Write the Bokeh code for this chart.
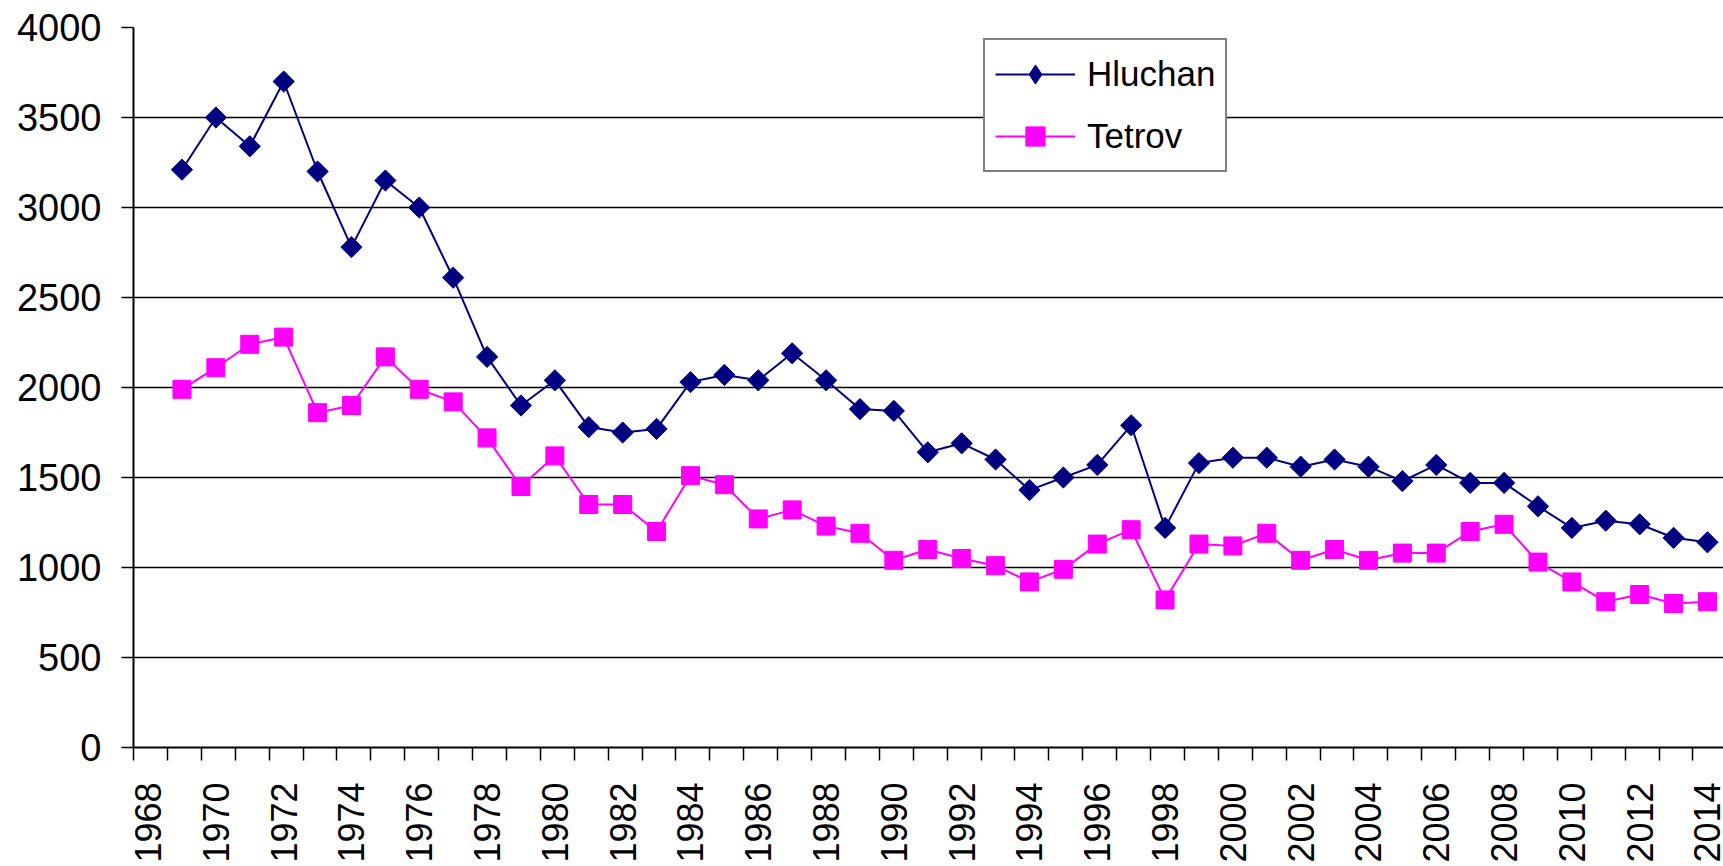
import numpy as np
from bokeh.plotting import figure
from bokeh.models import (Range1d, LinearAxis, FixedTicker, NumeralTickFormatter,
                          Legend, LegendItem, Grid, ColumnDataSource)
from bokeh.embed import file_html
from bokeh.resources import INLINE

# ---- data ----
years = list(range(1969, 2015))
hluchan = [3210, 3500, 3340, 3700, 3200, 2780, 3150, 3000, 2610, 2170,
           1900, 2040, 1780, 1750, 1770, 2030, 2070, 2040, 2190, 2040,
           1880, 1870, 1640, 1690, 1600, 1430, 1500, 1570, 1790, 1220,
           1580, 1610, 1610, 1560, 1600, 1560, 1480, 1570, 1470, 1470,
           1340, 1220, 1260, 1240, 1165, 1140]
tetrov = [1990, 2110, 2240, 2280, 1860, 1900, 2170, 1990, 1920, 1720,
          1450, 1620, 1350, 1350, 1200, 1510, 1460, 1270, 1320, 1230,
          1190, 1040, 1100, 1050, 1010, 920, 990, 1130, 1210, 820,
          1130, 1120, 1190, 1040, 1100, 1040, 1080, 1080, 1200, 1240,
          1030, 920, 810, 850, 800, 810]
category_years = list(range(1968, 2015))
label_years = list(range(1968, 2015, 2))
y_ticks = list(range(0, 4001, 500))

FONT = "Liberation Sans"
HALF = 0.43          # offset of category boundary from category centre
PX_PER_YEAR = 33.9
FRAME_W, FRAME_H = 1590, 720

src = ColumnDataSource(dict(year=years, hluchan=hluchan, tetrov=tetrov))

x0 = category_years[0] - HALF
p = figure(frame_width=FRAME_W, frame_height=FRAME_H,
           min_border_left=133, min_border_top=27, min_border_right=0, min_border_bottom=119,
           x_range=Range1d(x0, x0 + FRAME_W / PX_PER_YEAR),
           y_range=Range1d(0, 4000),
           x_axis_location=None, y_axis_location=None,
           output_backend="svg", toolbar_location=None)
p.outline_line_color = None
p.background_fill_color = "white"
p.border_fill_color = "white"

# grids
p.xgrid.visible = False
p.ygrid.visible = False
p.add_layout(Grid(dimension=1, ticker=FixedTicker(ticks=y_ticks[1:-1]),
                  grid_line_color="black", grid_line_width=1.5))
p.add_layout(Grid(dimension=1, ticker=FixedTicker(ticks=[y_ticks[-1]]),
                  grid_line_color="#9a9a9a", grid_line_width=2))

# y axis
yaxis = LinearAxis(ticker=FixedTicker(ticks=y_ticks),
                   axis_line_color="black", axis_line_width=2,
                   major_tick_line_color="black", major_tick_line_width=1.5,
                   major_tick_out=12, major_tick_in=0,
                   minor_tick_line_color=None,
                   major_label_standoff=20,
                   major_label_text_font=FONT, major_label_text_font_size="38px",
                   major_label_text_color="black")
p.add_layout(yaxis, "left")

# x axis: labels at category centres, tick marks (minor) at category boundaries
xaxis = LinearAxis(ticker=FixedTicker(ticks=label_years,
                                      minor_ticks=[c - HALF for c in category_years]),
                   formatter=NumeralTickFormatter(format="0"),
                   axis_line_color="black", axis_line_width=2,
                   major_tick_line_color=None, major_tick_out=0, major_tick_in=0,
                   minor_tick_line_color="black", minor_tick_line_width=1.5,
                   minor_tick_out=13, minor_tick_in=0,
                   major_label_standoff=22,
                   major_label_orientation=np.pi / 2,
                   major_label_text_font=FONT, major_label_text_font_size="36px",
                   major_label_text_color="black")
p.add_layout(xaxis, "below")

# series
NAVY = "#000080"
MAGENTA = "#FF00FF"
l1 = p.line("year", "hluchan", source=src, line_color=NAVY, line_width=2)
m1 = p.scatter("year", "hluchan", source=src, marker="square", size=15, angle=np.pi / 4,
               fill_color=NAVY, line_color=NAVY, line_width=1)
l2 = p.line("year", "tetrov", source=src, line_color=MAGENTA, line_width=2)
m2 = p.scatter("year", "tetrov", source=src, marker="square", size=18,
               fill_color=MAGENTA, line_color=MAGENTA, line_width=1)
# legend-only marker (legend markers are drawn unrotated); holds no visible point
m1_leg = p.scatter(x=[np.nan], y=[np.nan], marker="diamond",
                   fill_color=NAVY, line_color=NAVY)

legend = Legend(items=[LegendItem(label="Hluchan", renderers=[l1, m1_leg]),
                       LegendItem(label="Tetrov", renderers=[l2, m2])],
                location=(850, 575),
                label_text_font=FONT, label_text_font_size="35px",
                label_text_color="black",
                glyph_width=80, glyph_height=48, label_height=48,
                label_standoff=12, spacing=14, padding=10, margin=0,
                border_line_color="black", border_line_width=2,
                background_fill_color="white", background_fill_alpha=1.0)
p.add_layout(legend)

open("out.html", "w").write(file_html(p, INLINE))
